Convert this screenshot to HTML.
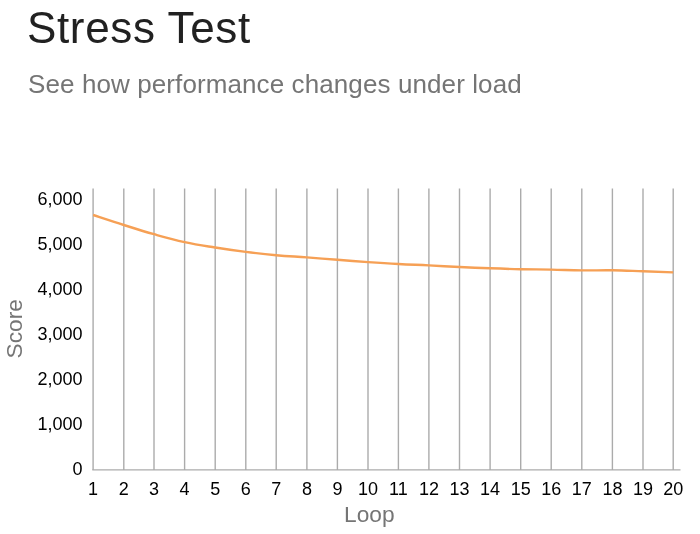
<!DOCTYPE html>
<html><head><meta charset="utf-8">
<style>
html,body{margin:0;padding:0;background:#fff;width:700px;height:534px;overflow:hidden;}
body{position:relative;font-family:"Liberation Sans",sans-serif;}
.t{position:absolute;left:27px;top:0px;font-size:44px;line-height:56px;letter-spacing:0.64px;color:#212121;white-space:nowrap;}
.s{position:absolute;left:28px;top:66px;font-size:26px;line-height:36px;letter-spacing:0.1px;color:#757575;white-space:nowrap;}
svg{position:absolute;left:0;top:0;}
.t,.s,svg{will-change:transform;}
</style></head><body>
<div class="t">Stress Test</div>
<div class="s">See how performance changes under load</div>
<svg width="700" height="534" viewBox="0 0 700 534">
<g stroke="#ababab" stroke-width="1.4"><line x1="93.10" y1="188.5" x2="93.10" y2="469.9"/><line x1="123.80" y1="188.5" x2="123.80" y2="469.9"/><line x1="154.00" y1="188.5" x2="154.00" y2="469.9"/><line x1="184.60" y1="188.5" x2="184.60" y2="469.9"/><line x1="215.20" y1="188.5" x2="215.20" y2="469.9"/><line x1="245.80" y1="188.5" x2="245.80" y2="469.9"/><line x1="276.20" y1="188.5" x2="276.20" y2="469.9"/><line x1="306.90" y1="188.5" x2="306.90" y2="469.9"/><line x1="337.40" y1="188.5" x2="337.40" y2="469.9"/><line x1="368.00" y1="188.5" x2="368.00" y2="469.9"/><line x1="398.40" y1="188.5" x2="398.40" y2="469.9"/><line x1="428.90" y1="188.5" x2="428.90" y2="469.9"/><line x1="459.50" y1="188.5" x2="459.50" y2="469.9"/><line x1="490.10" y1="188.5" x2="490.10" y2="469.9"/><line x1="520.70" y1="188.5" x2="520.70" y2="469.9"/><line x1="551.20" y1="188.5" x2="551.20" y2="469.9"/><line x1="581.80" y1="188.5" x2="581.80" y2="469.9"/><line x1="612.40" y1="188.5" x2="612.40" y2="469.9"/><line x1="643.00" y1="188.5" x2="643.00" y2="469.9"/><line x1="673.20" y1="188.5" x2="673.20" y2="469.9"/><line x1="92.3" y1="469.9" x2="680.5" y2="469.9"/></g>
<path d="M93.10,215.00 C99.24,217.00 111.62,221.16 123.80,225.00 C135.98,228.84 141.84,230.78 154.00,234.20 C166.16,237.62 172.36,239.44 184.60,242.10 C196.84,244.76 202.96,245.54 215.20,247.50 C227.44,249.46 233.60,250.36 245.80,251.90 C258.00,253.44 263.98,254.10 276.20,255.20 C288.42,256.30 294.66,256.48 306.90,257.40 C319.14,258.32 325.18,258.86 337.40,259.80 C349.62,260.74 355.80,261.26 368.00,262.10 C380.20,262.94 386.22,263.34 398.40,264.00 C410.58,264.66 416.68,264.80 428.90,265.40 C441.12,266.00 447.26,266.42 459.50,267.00 C471.74,267.58 477.86,267.86 490.10,268.30 C502.34,268.74 508.48,268.94 520.70,269.20 C532.92,269.46 538.98,269.36 551.20,269.60 C563.42,269.84 569.56,270.26 581.80,270.40 C594.04,270.54 600.16,270.12 612.40,270.30 C624.64,270.48 630.84,270.88 643.00,271.30 C655.16,271.72 667.16,272.18 673.20,272.40" fill="none" stroke="#f6a055" stroke-width="2.4" stroke-linejoin="round"/>
<g font-family="Liberation Sans, sans-serif" font-size="18" fill="#000"><text x="82.5" y="475.30" text-anchor="end">0</text><text x="82.5" y="430.20" text-anchor="end">1,000</text><text x="82.5" y="385.10" text-anchor="end">2,000</text><text x="82.5" y="340.00" text-anchor="end">3,000</text><text x="82.5" y="294.90" text-anchor="end">4,000</text><text x="82.5" y="249.80" text-anchor="end">5,000</text><text x="82.5" y="204.70" text-anchor="end">6,000</text><text x="93.10" y="494.8" text-anchor="middle">1</text><text x="123.80" y="494.8" text-anchor="middle">2</text><text x="154.00" y="494.8" text-anchor="middle">3</text><text x="184.60" y="494.8" text-anchor="middle">4</text><text x="215.20" y="494.8" text-anchor="middle">5</text><text x="245.80" y="494.8" text-anchor="middle">6</text><text x="276.20" y="494.8" text-anchor="middle">7</text><text x="306.90" y="494.8" text-anchor="middle">8</text><text x="337.40" y="494.8" text-anchor="middle">9</text><text x="368.00" y="494.8" text-anchor="middle">10</text><text x="398.40" y="494.8" text-anchor="middle">11</text><text x="428.90" y="494.8" text-anchor="middle">12</text><text x="459.50" y="494.8" text-anchor="middle">13</text><text x="490.10" y="494.8" text-anchor="middle">14</text><text x="520.70" y="494.8" text-anchor="middle">15</text><text x="551.20" y="494.8" text-anchor="middle">16</text><text x="581.80" y="494.8" text-anchor="middle">17</text><text x="612.40" y="494.8" text-anchor="middle">18</text><text x="643.00" y="494.8" text-anchor="middle">19</text><text x="673.20" y="494.8" text-anchor="middle">20</text></g>
<g font-family="Liberation Sans, sans-serif" font-size="22.7" fill="#757575">
<text x="369.3" y="522.4" text-anchor="middle">Loop</text>
<text transform="translate(22,328.8) rotate(-90)" text-anchor="middle">Score</text>
</g>
</svg>
</body></html>
